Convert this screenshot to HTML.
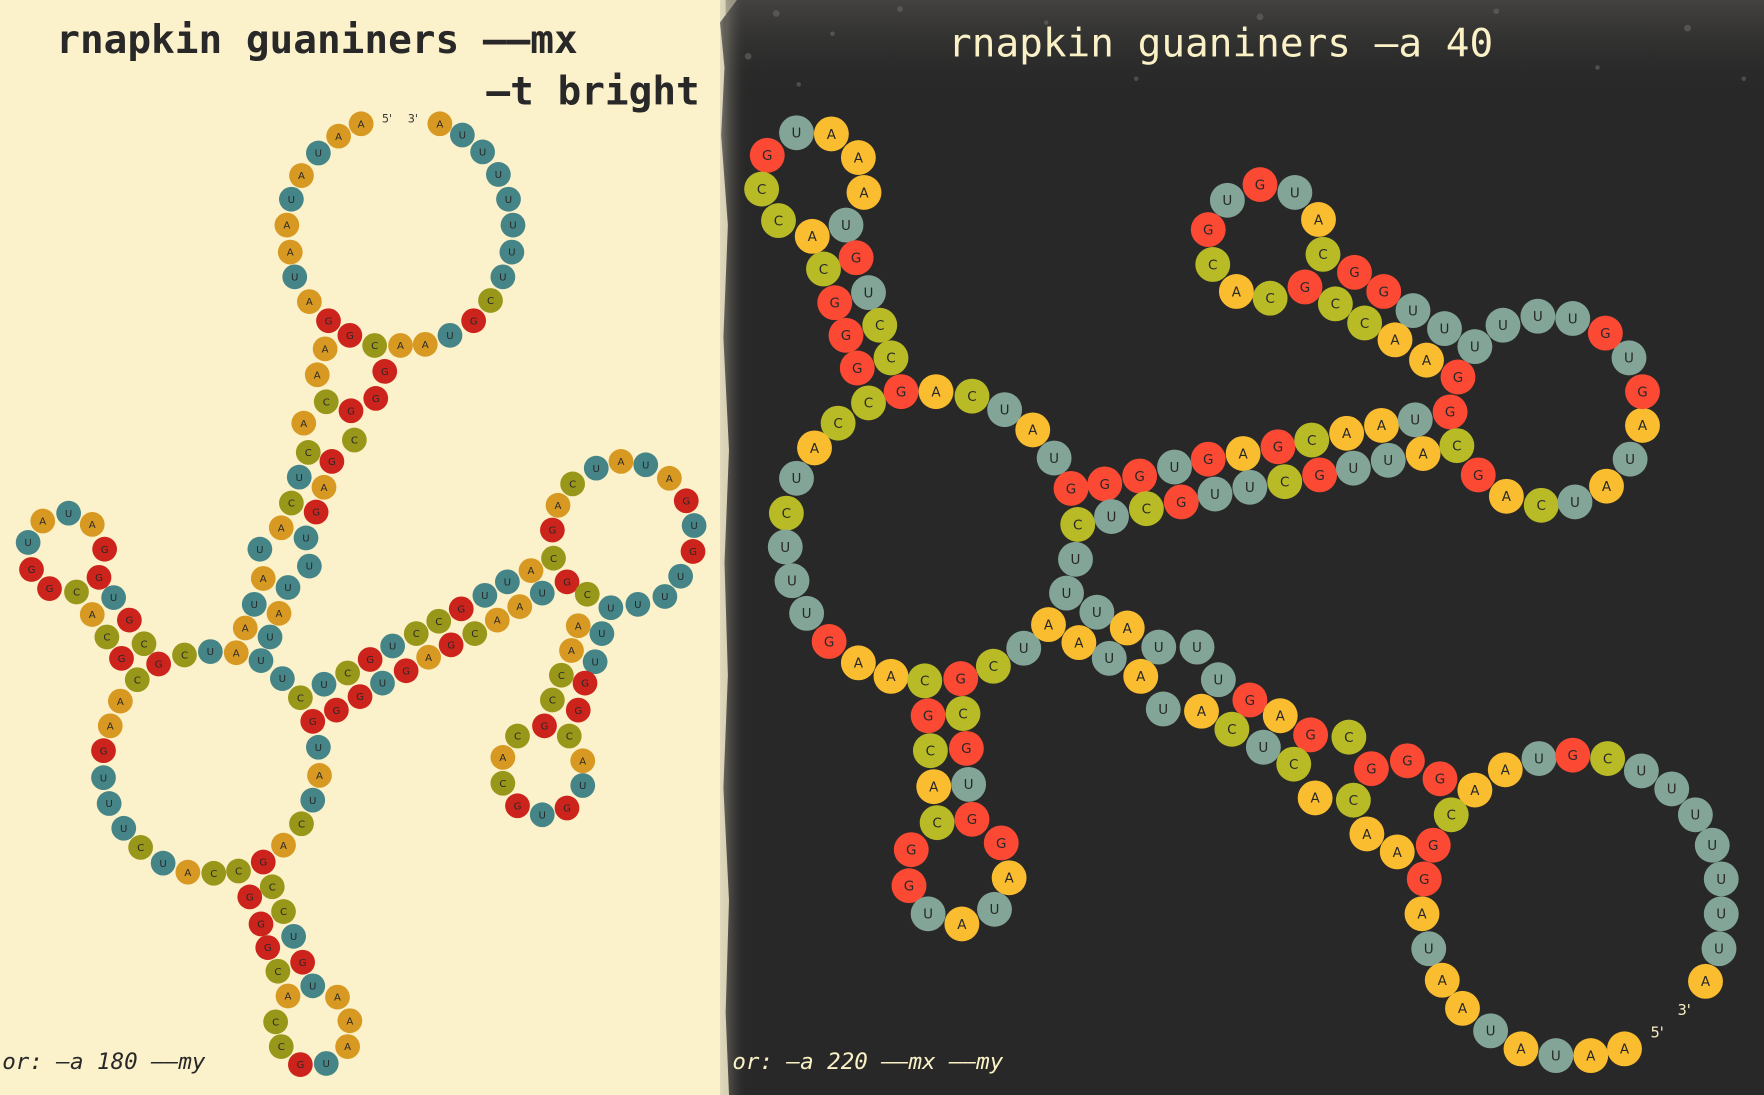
<!DOCTYPE html>
<html><head><meta charset="utf-8"><style>
html,body{margin:0;padding:0;width:1764px;height:1095px;overflow:hidden;background:#fbf1c7}
svg{display:block}
</style></head><body>
<svg id="chart" width="1764" height="1095" viewBox="0 0 1568 973" preserveAspectRatio="none" xmlns="http://www.w3.org/2000/svg">
<defs>
<linearGradient id="topband" x1="0" y1="0" x2="0" y2="1">
<stop offset="0" stop-color="#5a5854" stop-opacity="0.55"/>
<stop offset="1" stop-color="#282828" stop-opacity="0"/>
</linearGradient>
<linearGradient id="edgeband" x1="0" y1="0" x2="1" y2="0">
<stop offset="0" stop-color="#c8c2ae" stop-opacity="0.5"/>
<stop offset="1" stop-color="#282828" stop-opacity="0"/>
</linearGradient>
</defs>
<rect x="0" y="0" width="660" height="973" fill="#fbf1cb"/>
<path d="M655,0 L1568,0 L1568,973 L648,973 L645,900 L648,800 L643,700 L647,600 L644,500 L648,400 L643,300 L647,200 L641,120 L644,60 L640,20 Z" fill="#282828"/>
<rect x="645" y="0" width="923" height="90" fill="url(#topband)"/>
<rect x="640" y="0" width="25" height="973" fill="url(#edgeband)"/>
<g fill="#6a6862" opacity="0.6">
<circle cx="690" cy="12" r="3"/><circle cx="740" cy="30" r="2"/><circle cx="800" cy="8" r="2.5"/><circle cx="930" cy="20" r="2"/><circle cx="1010" cy="70" r="2"/><circle cx="1120" cy="15" r="3"/><circle cx="1250" cy="40" r="2"/><circle cx="1330" cy="10" r="2.5"/><circle cx="1420" cy="60" r="2"/><circle cx="1500" cy="25" r="3"/><circle cx="1550" cy="70" r="2"/><circle cx="665" cy="50" r="3"/><circle cx="710" cy="75" r="2"/>
</g>
<g id="left"></g>
<g id="right"></g>
<text x="50" y="47" font-family="'DejaVu Sans Mono','Liberation Mono',monospace" font-weight="bold" font-size="35" fill="#282828">rnapkin guaniners ——mx</text>
<text x="622" y="93" text-anchor="end" font-family="'DejaVu Sans Mono','Liberation Mono',monospace" font-weight="bold" font-size="35" fill="#282828">—t bright</text>
<text x="1085" y="50" text-anchor="middle" font-family="'DejaVu Sans Mono','Liberation Mono',monospace" font-size="35" fill="#fbf1c7">rnapkin guaniners —a 40</text>
<text x="2" y="950" font-family="'DejaVu Sans Mono','Liberation Mono',monospace" font-style="italic" font-size="20" fill="#282828">or: —a 180 ——my</text>
<text x="651" y="950" font-family="'DejaVu Sans Mono','Liberation Mono',monospace" font-style="italic" font-size="20" fill="#fbf1c7">or: —a 220 ——mx ——my</text>
<text x="344" y="109" text-anchor="middle" font-family="'DejaVu Sans',sans-serif" font-size="10" fill="#3c3836">5'</text>
<text x="367" y="109" text-anchor="middle" font-family="'DejaVu Sans',sans-serif" font-size="10" fill="#3c3836">3'</text>
<text x="1497" y="902" text-anchor="middle" font-family="'DejaVu Sans',sans-serif" font-size="13" fill="#fbf1c7">3'</text>
<text x="1473" y="922" text-anchor="middle" font-family="'DejaVu Sans',sans-serif" font-size="13" fill="#fbf1c7">5'</text>
</svg>
<script>
const leftBases = "A321,110 A301,121 U283,136 A268,156 U259,177 A255,200 A258,224 U262,246 A275,268 G292,285 G311,298 C333,307 A356,307 A378,306 U400,298 G421,285 C436,267 U447,246 U455,224 U456,200 U452,177 U443,155 U429,135 U411,120 A391,110 A289,310 A282,333 C290,357 A270,376 C274,402 U266,424 C259,447 A250,469 U231,488 A234,514 U226,537 A218,558 A210,580 U232,587 U251,603 G342,330 G334,354 G312,365 C315,391 G295,410 A288,433 G281,455 U272,478 U275,503 U256,522 A248,545 U240,566 U187,579 C164,582 G141,590 C122,604 C128,572 G115,551 U101,531 G88,513 G93,488 A82,466 U61,456 A38,463 U25,482 G28,506 G44,523 C68,526 A82,546 C95,566 G108,585 A107,623 A98,645 G92,667 U92,691 U97,714 U110,736 C125,753 U145,767 A167,775 C190,776 C212,774 G234,766 C242,788 C252,810 U261,832 G269,855 U278,876 A300,886 A311,907 A309,930 U290,945 G267,946 C250,930 C245,908 A256,885 C247,863 G238,842 G232,821 G222,797 A252,751 C268,732 U278,711 A284,689 U283,664 G278,641 C267,620 U288,608 G299,631 G320,619 U340,607 G361,596 A381,584 G401,573 C422,563 A442,551 A462,539 U482,527 C309,598 G329,586 U349,574 C370,563 C390,552 G410,541 U431,529 U451,517 A472,507 G504,517 U543,540 U567,537 U591,530 U605,512 G616,490 U617,467 G610,445 A595,425 U574,413 A552,410 U530,416 C509,430 A496,449 G491,471 C492,496 C522,528 A514,556 U535,563 A508,578 U529,588 C499,600 G520,607 C491,622 G514,631 G484,645 C506,654 C460,654 A447,673 C447,696 G460,716 U482,724 G504,718 U518,698 A518,676".split(" ");
const rightBases = "G682,138 U708,118 A739,119 A763,140 A768,171 U752,200 A722,210 C692,196 C677,168 C732,239 G761,229 G742,269 U772,260 G752,298 C782,289 G762,327 C792,318 C772,358 G801,348 A832,348 C864,352 U893,364 A918,382 U937,407 C745,376 A724,398 U708,425 C699,456 U698,486 U704,516 U717,545 G737,570 A763,589 A792,601 C822,605 G854,603 C883,592 U910,576 G952,434 G982,430 G1013,423 U1044,415 G1074,408 A1105,403 G1136,397 C1166,391 A1197,385 A1228,378 U1258,373 G1289,366 C958,466 U988,459 C1019,452 G1050,446 U1080,439 U1111,433 C1142,428 G1173,422 U1203,416 U1234,409 A1265,403 C1295,396 G1314,422 A1339,441 C1370,449 U1400,446 A1428,432 U1449,408 A1460,378 G1460,348 U1448,318 G1427,296 U1398,283 U1367,281 U1336,289 U1311,308 U1284,292 U1256,276 G1296,335 A1268,320 A1240,302 C1213,287 C1187,270 G1160,255 C1129,265 A1099,259 C1078,235 G1074,204 U1091,178 G1120,164 U1151,171 A1172,195 C1176,226 G1204,242 G1230,259 U956,497 U948,527 U975,544 A932,555 A959,571 U986,585 A1002,558 U1030,575 A1014,601 U1064,575 U1083,604 U1034,630 A1068,632 G1111,622 C1095,648 A1138,636 U1123,664 G1165,653 C1150,679 C1199,655 A1169,709 C1203,711 G1219,683 G1251,676 G1280,692 A1311,702 A1338,684 U1368,674 G1398,671 C1429,674 U1459,685 U1486,701 U1507,724 U1522,751 U1530,781 U1530,812 U1528,843 A1516,872 C1290,724 G1274,751 A1215,741 A1242,757 G1266,781 A1264,812 U1270,843 A1282,871 A1300,896 U1325,916 A1352,932 U1383,938 A1414,938 A1444,932 G825,636 C856,634 C827,667 G859,665 A830,699 U861,697 C833,731 G864,728 G810,755 G890,749 G808,787 A897,780 U825,812 A855,821 U884,808".split(" ");
const leftColors = {A:"#d79921",U:"#458588",G:"#cc241d",C:"#98971a"};
const rightColors = {A:"#fabd2f",U:"#83a598",G:"#fb4934",C:"#b8bb26"};
const NS = "http://www.w3.org/2000/svg";
function draw(list, gid, colors, r, fs, name){
  const g = document.getElementById(gid);
  list.forEach(function(s){
    const b = s[0]; const xy = s.slice(1).split(",");
    const x = +xy[0], y = +xy[1];
    const c = document.createElementNS(NS,"circle");
    c.setAttribute("cx",x); c.setAttribute("cy",y); c.setAttribute("r",r);
    c.setAttribute("fill",colors[b]);
    
    
    g.appendChild(c);
    const t = document.createElementNS(NS,"text");
    t.setAttribute("x",x); t.setAttribute("y",y+fs*0.36);
    t.setAttribute("text-anchor","middle"); t.setAttribute("font-size",fs);
    t.setAttribute("font-family","'DejaVu Sans',sans-serif"); t.setAttribute("fill","#282828");
    t.textContent = b;
    
    
    g.appendChild(t);
  });
}
draw(leftBases,"left",leftColors,11,9,"left");
draw(rightBases,"right",rightColors,15.5,12,"right");
</script>
</body></html>
